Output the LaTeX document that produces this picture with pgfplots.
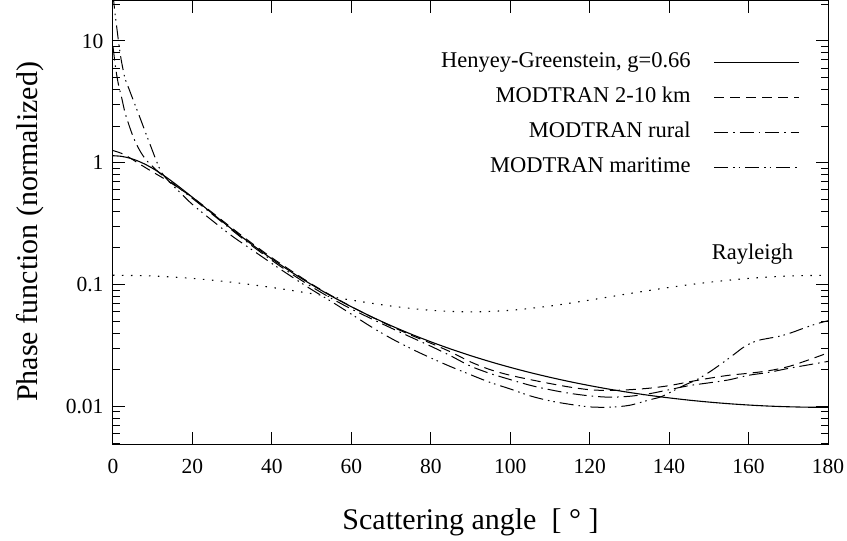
\documentclass[border=0pt]{standalone}
\usepackage{fontspec}
\setmainfont{Liberation Serif}
\usepackage{pgfplots}
\pgfplotsset{compat=1.18}
\begin{document}
\begin{tikzpicture}
\useasboundingbox (-113pt,-97pt) rectangle (734pt,444pt);
\begin{axis}[
  at={(0pt,0pt)}, anchor=south west,
  width=715pt, height=443pt, scale only axis,
  xmin=0, xmax=180, ymode=log, ymin=0.00491, ymax=21.3,
  xtick={0,20,40,60,80,100,120,140,160,180},
  xticklabels={0,20,40,60,80,100,120,140,160,180},
  minor x tick num=0,
  ytick={0.01,0.1,1,10}, yticklabels={0.01,0.1,1,10},
  minor ytick={0.005,0.006,0.007,0.008,0.009,0.02,0.03,0.04,0.05,0.06,0.07,0.08,0.09,0.2,0.3,0.4,0.5,0.6,0.7,0.8,0.9,2,3,4,5,6,7,8,9,20},
  tick align=inside, major tick length=12pt, minor tick length=7pt,
  every tick/.style={line width=1pt, black},
  axis line style={line width=1pt},
  tick label style={font=\fontsize{21.5}{24}\selectfont},
  xticklabel style={yshift=-12pt},
  yticklabel style={xshift=-6pt},
  /pgf/number format/assume math mode=true,
  xlabel={Scattering angle~~[~°~]},
  ylabel={Phase function (normalized)},
  label style={font=\fontsize{30}{34}\selectfont},
  xlabel style={at={(axis description cs:0.5,-0.176)}, anchor=center},
  ylabel style={at={(axis description cs:-0.116,0.479)}, anchor=center},
  legend plot pos=right,
  legend cell align=right,
  legend image code/.code={\draw[#1] (0pt,0pt) -- (85pt,0pt);},
  legend style={at={(axis description cs:0.965,0.890)}, anchor=north east,
    draw=none, fill=none, font=\fontsize{22.5}{25}\selectfont,
    nodes={inner sep=0pt, text height=16pt, text depth=5pt},
    row sep=14pt,
    /tikz/every odd column/.append style={column sep=23pt}},
]
\addplot[black, line width=1.1pt, smooth] coordinates {
(0,1.1428) (2,1.1308) (4,1.0966) (6,1.0433) (8,0.9757) (10,0.8990) (12,0.8182)
(15,0.6980) (20,0.5208) (25,0.3838) (30,0.2840) (35,0.2130) (40,0.16244)
(45,0.12619) (50,0.09984) (55,0.08037) (60,0.06575) (65,0.05462) (70,0.04600)
(75,0.03925) (80,0.03390) (85,0.02960) (90,0.02611) (95,0.02326) (100,0.02091)
(105,0.01896) (110,0.01733) (115,0.01596) (120,0.01481) (125,0.01383)
(130,0.01301) (135,0.01232) (140,0.01174) (145,0.01125) (150,0.01085)
(155,0.01052) (160,0.01026) (165,0.01006) (170,0.009927) (175,0.009846) (180,0.009819)};
\addlegendentry{Henyey-Greenstein, g=0.66}
\addplot[black, line width=1pt, dash pattern=on 10pt off 6pt, smooth] coordinates {
(0,1.26) (2,1.20) (4,1.11) (6,1.01) (8,0.92) (10,0.84) (12,0.77) (15,0.67)
(20,0.52) (25,0.39) (30,0.29) (35,0.218) (40,0.166) (45,0.129) (50,0.101)
(55,0.081) (60,0.0660) (65,0.0545) (70,0.0455) (75,0.0385) (80,0.0330)
(85,0.0280) (90,0.0232) (95,0.0200) (100,0.0180) (105,0.0166) (110,0.0154)
(115,0.0144) (120,0.0137) (125,0.0135) (130,0.0137) (135,0.0141) (140,0.0148)
(145,0.0159) (150,0.0170) (155,0.0180) (160,0.0187) (165,0.0196) (170,0.0212)
(175,0.0240) (180,0.0275)};
\addlegendentry{MODTRAN 2-10 km}
\addplot[black, line width=1pt, dash pattern=on 14pt off 5pt on 1.5pt off 5pt, smooth] coordinates {
(0,9.0) (0.5,6.6) (1,5.1) (1.5,4.2) (2.2,3.4) (3,2.6) (4,2.05) (5,1.66) (6,1.40)
(7,1.22) (8,1.09) (9,1.0) (10,0.93) (12,0.81) (15,0.68) (20,0.51) (25,0.378) (30,0.279)
(35,0.208) (40,0.158) (45,0.122) (50,0.096) (55,0.077) (60,0.063) (65,0.0525)
(70,0.0440) (75,0.0370) (80,0.0312) (85,0.0260) (90,0.0214) (95,0.0186)
(100,0.0166) (105,0.0149) (110,0.0137) (115,0.0128) (120,0.0122) (125,0.0119)
(130,0.0121) (135,0.0127) (140,0.0137) (145,0.0148) (150,0.0156) (155,0.0165)
(160,0.0180) (165,0.0190) (170,0.0205) (175,0.0219) (180,0.0234)};
\addlegendentry{MODTRAN rural}
\addplot[black, line width=1pt, dash pattern=on 14pt off 5pt on 1.5pt off 4pt on 1.5pt off 5pt, smooth] coordinates {
(0,24) (0.5,17) (1,12.5) (1.5,9.3) (2,7.2) (2.5,5.9) (3,4.95) (4,4.06) (5,3.33) (6,2.74)
(7,2.25) (8,1.84) (9,1.51) (10,1.24) (11,1.02) (12,0.86) (13,0.77) (15,0.655)
(17,0.565) (20,0.455) (25,0.335) (30,0.250) (35,0.193) (40,0.149) (45,0.116)
(50,0.091) (55,0.0725) (60,0.0572) (65,0.0450) (70,0.0362) (75,0.0298)
(80,0.0250) (85,0.0212) (90,0.0182) (95,0.0157) (100,0.0139) (105,0.0122)
(110,0.0111) (115,0.0104) (120,0.0099) (125,0.00985) (130,0.0102) (135,0.0113)
(138,0.0120) (141,0.0134) (144,0.0150) (147,0.0166) (150,0.0190) (153,0.0222)
(156,0.0262) (159,0.0310) (162,0.0345) (165,0.0362) (168,0.0378) (171,0.0405)
(174,0.0440) (177,0.0475) (180,0.0505)};
\addlegendentry{MODTRAN maritime}
\addplot[black, line width=1.1pt, dash pattern=on 1.5pt off 7.5pt, smooth, forget plot] coordinates {
(0,0.11937) (10,0.11757) (20,0.11238) (30,0.10444) (40,0.09471) (50,0.08434)
(60,0.07460) (70,0.06666) (80,0.06148) (90,0.05968) (100,0.06148) (110,0.06666)
(120,0.07460) (130,0.08434) (140,0.09471) (150,0.10444) (160,0.11238)
(170,0.11757) (180,0.11937)};
\node[anchor=base, font=\fontsize{22.5}{25}\selectfont] at (axis cs:161,0.16) {Rayleigh};
\end{axis}
\end{tikzpicture}
\end{document}
